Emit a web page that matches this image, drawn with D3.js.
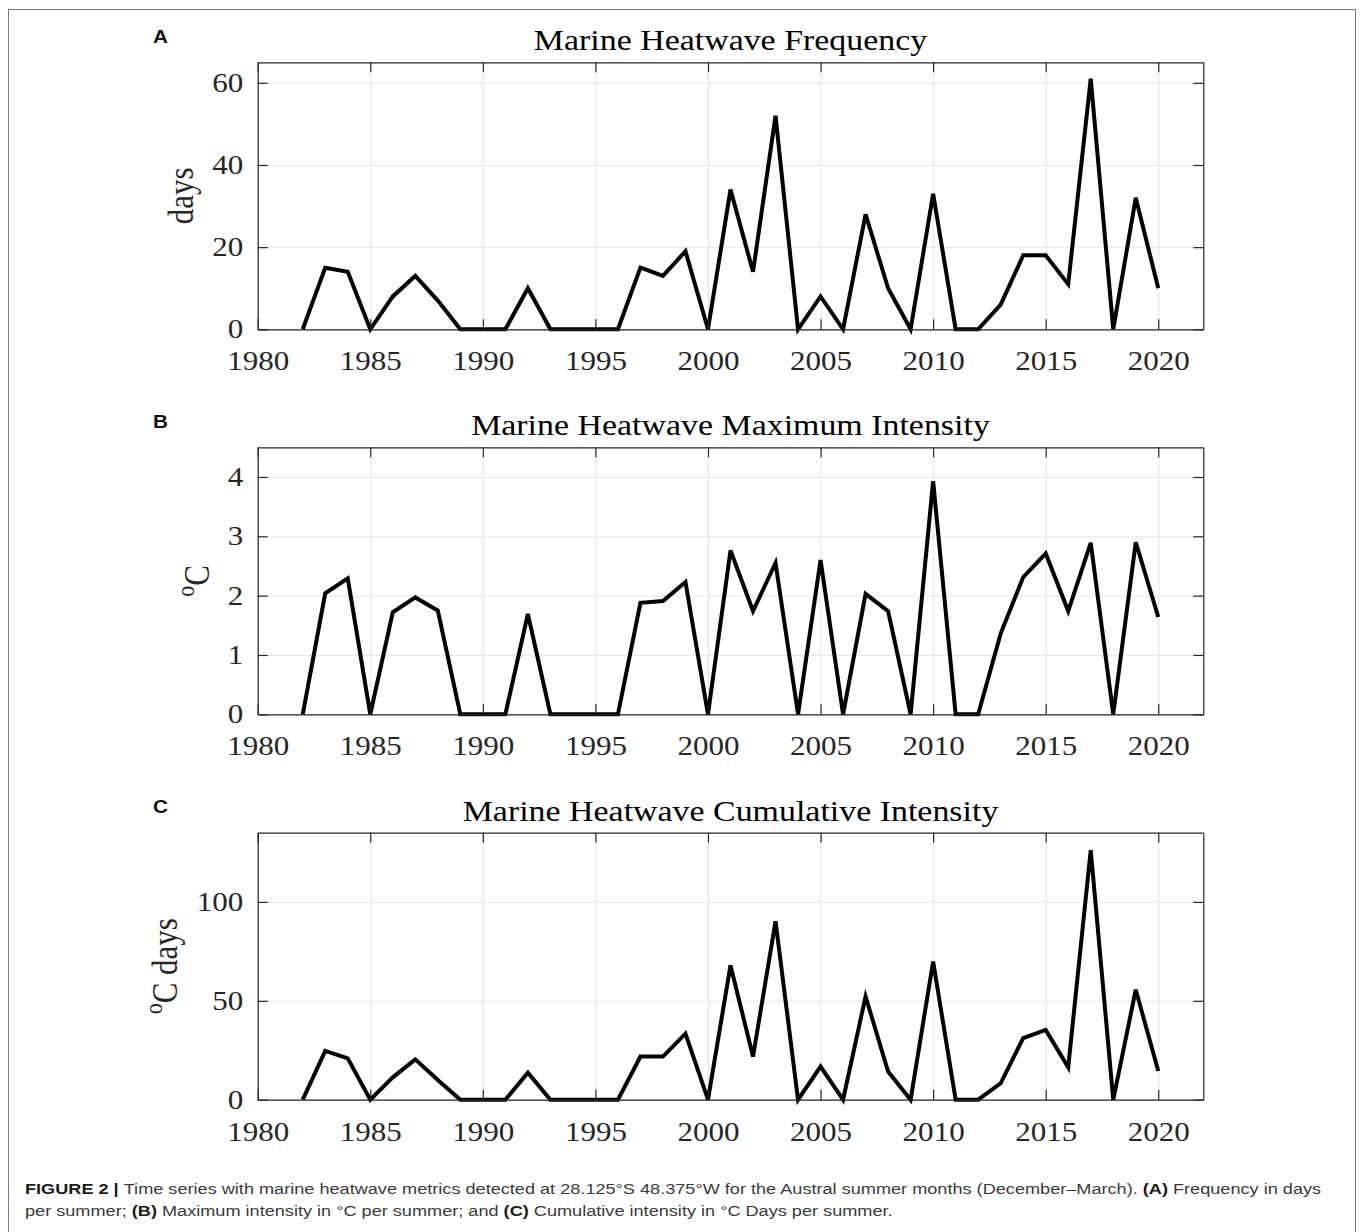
<!DOCTYPE html>
<html>
<head>
<meta charset="utf-8">
<script src="https://cdn.jsdelivr.net/npm/d3@7"></script>
<style>
  body { margin: 0; background: #fff; }
  svg { display: block; }
</style>
</head>
<body>
<div id="chart"></div>
<script>
// data, Austral summers 1982-2020
var years = [1982, 1983, 1984, 1985, 1986, 1987, 1988, 1989, 1990, 1991,
  1992, 1993, 1994, 1995, 1996, 1997, 1998, 1999, 2000, 2001,
  2002, 2003, 2004, 2005, 2006, 2007, 2008, 2009, 2010, 2011,
  2012, 2013, 2014, 2015, 2016, 2017, 2018, 2019, 2020];

var frequencyDays = [0, 15, 14, 0, 8, 13, 7, 0, 0, 0,
  10, 0, 0, 0, 0, 15, 13, 19, 0, 34,
  14, 52, 0, 8, 0, 28, 10, 0, 33, 0,
  0, 6, 18, 18, 11, 61, 0, 32, 10];

var maxIntensity = [0, 2.04, 2.29, 0, 1.72, 1.97, 1.75, 0, 0, 0,
  1.69, 0, 0, 0, 0, 1.88, 1.91, 2.23, 0, 2.76,
  1.74, 2.55, 0, 2.6, 0, 2.03, 1.74, 0, 3.93, 0,
  0, 1.36, 2.31, 2.71, 1.74, 2.89, 0, 2.9, 1.64];

var cumIntensity = [0, 24.7, 20.9, 0, 11.3, 20.4, 10, 0, 0, 0,
  13.7, 0, 0, 0, 0, 21.8, 21.8, 33.4, 0, 67.9,
  21.8, 90.2, 0, 16.7, 0, 52.2, 14.2, 0, 69.9, 0,
  0, 8.3, 31.1, 35.3, 16.4, 126.2, 0, 55.6, 14.5];

var xTicks = [1980, 1985, 1990, 1995, 2000, 2005, 2010, 2015, 2020];
var freqTicks = [0, 20, 40, 60];
var maxTicks = [0, 1, 2, 3, 4];
var cumTicks = [0, 50, 100];

var panels = [
  { letter: 'A', title: 'Marine Heatwave Frequency', values: frequencyDays, yMax: 65, ticks: freqTicks, label: ['', 'days'], labelX: 185 },
  { letter: 'B', title: 'Marine Heatwave Maximum Intensity', values: maxIntensity, yMax: 4.5, ticks: maxTicks, label: ['o', 'C'], labelX: 200 },
  { letter: 'C', title: 'Marine Heatwave Cumulative Intensity', values: cumIntensity, yMax: 135, ticks: cumTicks, label: ['o', 'C days'], labelX: 168 }
];

var W = 1360, H = 1232;
var LEFT = 257.7, RIGHT = 1203.3;
var PLOT_H = 267;
var TOPS = [62.3, 447.3, 832.7];
var STRETCH = 1.15; // the source figure is a bit wider than tall
var SERIF = '"Liberation Serif", "Times New Roman", serif';
var SANS = '"Liberation Sans", Arial, sans-serif';
var AXIS_COLOR = '#262626';

var svg = d3.select('#chart').append('svg')
  .attr('width', W)
  .attr('height', H);

// outer frame of the figure
svg.append('rect')
  .attr('x', 8.5).attr('y', 9.5)
  .attr('width', 1347).attr('height', 1240)
  .attr('fill', 'none')
  .attr('stroke', '#777')
  .attr('stroke-width', 1);

var x = d3.scaleLinear().domain([1980, 2022]).range([0, RIGHT - LEFT]);
var plotW = RIGHT - LEFT;

panels.forEach(function (p, i) {
  var top = TOPS[i];
  var y = d3.scaleLinear().domain([0, p.yMax]).range([PLOT_H, 0]);

  // panel letter
  svg.append('text')
    .attr('transform', 'translate(153,' + (43 + i * 385) + ') scale(' + STRETCH + ',1)')
    .attr('font-family', SANS)
    .attr('font-weight', 'bold')
    .attr('font-size', 18)
    .attr('fill', '#111')
    .text(p.letter);

  var g = svg.append('g')
    .attr('transform', 'translate(' + LEFT + ',' + top + ')');

  // grid
  g.append('g')
    .attr('class', 'grid')
    .attr('transform', 'translate(0,' + PLOT_H + ')')
    .call(d3.axisBottom(x).tickValues(xTicks).tickSize(-PLOT_H).tickFormat(''));
  g.append('g')
    .attr('class', 'grid')
    .call(d3.axisLeft(y).tickValues(p.ticks).tickSize(-plotW).tickFormat(''));
  g.selectAll('.grid path').remove();
  g.selectAll('.grid line').attr('stroke', '#e6e6e6').attr('stroke-width', 1);

  // the series
  var line = d3.line()
    .x(function (d, k) { return x(years[k]); })
    .y(function (d) { return y(d); });

  g.append('path')
    .datum(p.values)
    .attr('fill', 'none')
    .attr('stroke', '#000')
    .attr('stroke-width', 4)
    .attr('stroke-linejoin', 'miter')
    .attr('d', line);

  // axes, ticks pointing inward like matlab
  g.append('g')
    .attr('class', 'ax')
    .attr('transform', 'translate(0,' + PLOT_H + ')')
    .call(d3.axisBottom(x).tickValues(xTicks).tickSize(-10).tickPadding(22).tickSizeOuter(0).tickFormat(d3.format('d')));
  g.append('g')
    .attr('class', 'ax')
    .call(d3.axisTop(x).tickValues(xTicks).tickSize(-10).tickSizeOuter(0).tickFormat(''));
  g.append('g')
    .attr('class', 'ax')
    .call(d3.axisLeft(y).tickValues(p.ticks).tickSize(-10).tickPadding(12.5).tickSizeOuter(0).tickFormat(d3.format('~g')));
  g.append('g')
    .attr('class', 'ax')
    .attr('transform', 'translate(' + plotW + ',0)')
    .call(d3.axisRight(y).tickValues(p.ticks).tickSize(-10).tickSizeOuter(0).tickFormat(''));

  g.selectAll('.ax path').attr('stroke', AXIS_COLOR).attr('stroke-width', 1.2);
  g.selectAll('.ax line').attr('stroke', AXIS_COLOR).attr('stroke-width', 1.2);
  g.selectAll('.ax text')
    .attr('font-family', SERIF)
    .attr('font-size', 27)
    .attr('fill', AXIS_COLOR)
    .attr('transform', 'scale(' + STRETCH + ',1)');

  // title
  g.append('text')
    .attr('transform', 'translate(' + (plotW / 2) + ',-12) scale(' + STRETCH + ',1)')
    .attr('text-anchor', 'middle')
    .attr('font-family', SERIF)
    .attr('font-size', 29.5)
    .attr('fill', '#000')
    .text(p.title);

  // y label
  var yl = svg.append('text')
    .attr('transform', 'translate(' + p.labelX + ',' + (top + PLOT_H / 2) + ') scale(' + STRETCH + ',1) rotate(-90)')
    .attr('text-anchor', 'middle')
    .attr('dominant-baseline', 'middle')
    .attr('font-family', SERIF)
    .attr('font-size', 31)
    .attr('fill', AXIS_COLOR);
  if (p.label[0]) {
    yl.append('tspan')
      .attr('font-size', 22)
      .attr('dy', -10)
      .text(p.label[0]);
    yl.append('tspan')
      .attr('dy', 10)
      .text(p.label[1]);
  } else {
    yl.text(p.label[1]);
  }
});

// caption
var caption = svg.append('g')
  .attr('font-family', SANS)
  .attr('font-size', 15)
  .attr('fill', '#3a3a3a');

var line1 = caption.append('text').attr('x', 0).attr('y', 1194);
line1.append('tspan').attr('font-weight', 'bold').attr('fill', '#1a1a1a').text('FIGURE 2 | ');
line1.append('tspan').text('Time series with marine heatwave metrics detected at 28.125°S 48.375°W for the Austral summer months (December–March). ');
line1.append('tspan').attr('font-weight', 'bold').attr('fill', '#1a1a1a').text('(A)');
line1.append('tspan').text(' Frequency in days');

var line2 = caption.append('text').attr('x', 0).attr('y', 1216);
line2.append('tspan').text('per summer; ');
line2.append('tspan').attr('font-weight', 'bold').attr('fill', '#1a1a1a').text('(B)');
line2.append('tspan').text(' Maximum intensity in °C per summer; and ');
line2.append('tspan').attr('font-weight', 'bold').attr('fill', '#1a1a1a').text('(C)');
line2.append('tspan').text(' Cumulative intensity in °C Days per summer.');

// widen the caption so the first line runs to the right edge like the original
var capWidth = line1.node().getComputedTextLength();
caption.attr('transform', 'translate(25,0) scale(' + (1298 / capWidth) + ',1)');
</script>
</body>
</html>
